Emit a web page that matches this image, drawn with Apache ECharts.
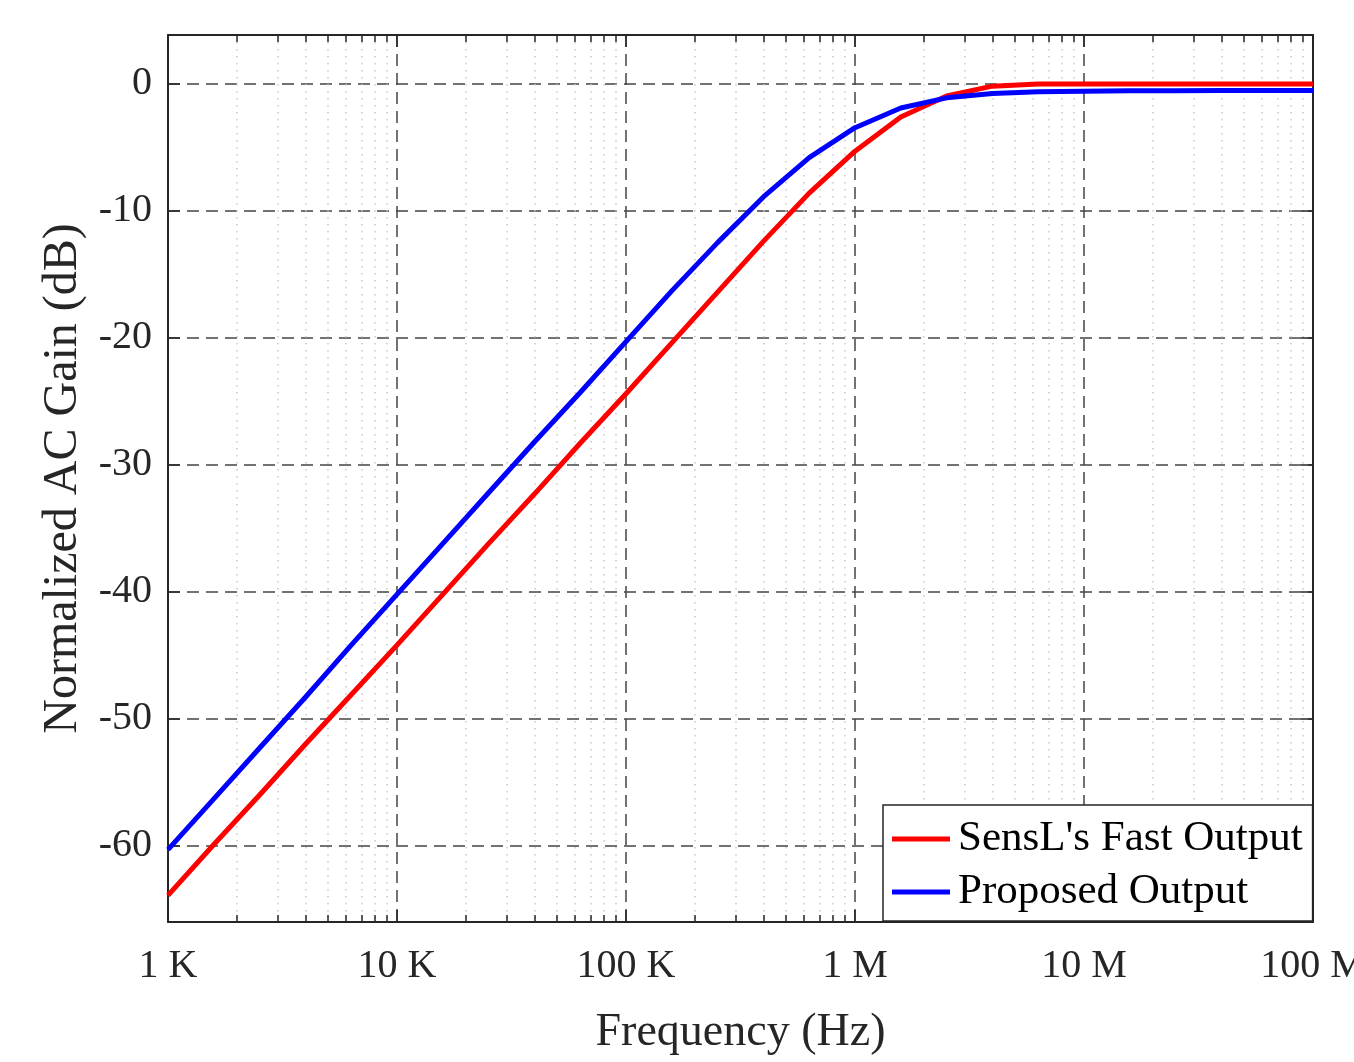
<!DOCTYPE html>
<html>
<head>
<meta charset="utf-8">
<script src="https://cdn.jsdelivr.net/npm/echarts@6/dist/echarts.min.js"></script>
<style>
html,body{margin:0;padding:0;background:#fff;}
#chart{width:1354px;height:1062px;}
</style>
</head>
<body>
<div id="chart"></div>
<script>
// Frequencies (Hz), sampled 5 points per decade
const freqs = [1000, 1585, 2512, 3981, 6310, 10000, 15849, 25119, 39811, 63096,
  100000, 158489, 251189, 398107, 630957, 1000000, 1584893, 2511886, 3981072, 6309573,
  10000000, 15848932, 25118864, 39810717, 63095734, 100000000];
// SensL's Fast Output (dB)
const sensl = [-63.9, -59.9, -56.0, -52.0, -48.1, -44.2, -40.2, -36.2, -32.3, -28.3,
  -24.4, -20.4, -16.4, -12.4, -8.6, -5.3, -2.6, -0.95, -0.18, 0.0,
  0.0, 0.0, 0.0, 0.0, 0.0, 0.0];
// Proposed Output (dB)
const proposed = [-60.3, -56.3, -52.3, -48.3, -44.2, -40.2, -36.2, -32.2, -28.2, -24.3,
  -20.3, -16.3, -12.5, -8.9, -5.8, -3.45, -1.9, -1.1, -0.75, -0.62,
  -0.57, -0.55, -0.54, -0.53, -0.53, -0.53];
const seriesNames = ["SensL's Fast Output", "Proposed Output"];
const xMajor = [1000, 10000, 100000, 1000000, 10000000, 100000000];
const xTickLabels = ['1 K', '10 K', '100 K', '1 M', '10 M', '100 M'];
const xMinor = [2000,3000,4000,5000,6000,7000,8000,9000,
  20000,30000,40000,50000,60000,70000,80000,90000,
  200000,300000,400000,500000,600000,700000,800000,900000,
  2000000,3000000,4000000,5000000,6000000,7000000,8000000,9000000,
  20000000,30000000,40000000,50000000,60000000,70000000,80000000,90000000];
const yTicks = [-60, -50, -40, -30, -20, -10, 0];

const FONT = '"Liberation Serif", "Times New Roman", serif';
const AXC = '#262626';

function xlab(v) {
  for (let i = 0; i < xMajor.length; i++) {
    if (Math.abs(v - xMajor[i]) / xMajor[i] < 1e-6) return xTickLabels[i];
  }
  return '';
}

const baseX = {type: 'log', logBase: 10, min: 1000, max: 100000000, gridIndex: 0};
const chart = echarts.init(document.getElementById('chart'));
chart.setOption({
  animation: false,
  backgroundColor: '#fff',
  grid: {left: 168, top: 35, right: 41, bottom: 140, containLabel: false, outerBoundsMode: 'none'},
  xAxis: [
    Object.assign({}, baseX, {
      position: 'bottom',
      name: 'Frequency (Hz)', nameLocation: 'middle', nameGap: 88,
      nameTextStyle: {fontFamily: FONT, fontSize: 46, color: AXC},
      axisLine: {show: true, onZero: false, lineStyle: {color: AXC, width: 2}},
      axisTick: {show: true, inside: true, length: 12, lineStyle: {color: AXC, width: 1.5}},
      axisLabel: {show: true, margin: 24, fontFamily: FONT, fontSize: 40, color: AXC, formatter: xlab,
        showMinLabel: true, showMaxLabel: true, hideOverlap: false},
      splitLine: {show: true, lineStyle: {color: '#444', width: 1.5, type: [12, 7]}},
      minorTick: {show: false}
    }),
    Object.assign({}, baseX, {
      position: 'bottom',
      axisLine: {show: false, onZero: false},
      axisTick: {show: true, inside: true, length: 7, customValues: xMinor, lineStyle: {color: AXC, width: 1.5}},
      axisLabel: {show: false},
      splitLine: {show: true, lineStyle: {color: '#c8c8c8', width: 1.5, type: [1.5, 5.5]}}
    }),
    Object.assign({}, baseX, {
      position: 'top',
      axisLine: {show: true, onZero: false, lineStyle: {color: AXC, width: 2}},
      axisTick: {show: true, inside: true, length: 12, lineStyle: {color: AXC, width: 1.5}},
      axisLabel: {show: false},
      splitLine: {show: false}
    }),
    Object.assign({}, baseX, {
      position: 'top',
      axisLine: {show: false, onZero: false},
      axisTick: {show: true, inside: true, length: 7, customValues: xMinor, lineStyle: {color: AXC, width: 1.5}},
      axisLabel: {show: false},
      splitLine: {show: false}
    })
  ],
  yAxis: [
    {
      type: 'value', min: -66, max: 3.85, position: 'left',
      name: 'Normalized AC Gain (dB)', nameLocation: 'middle', nameGap: 81,
      nameTextStyle: {fontFamily: FONT, fontSize: 48, color: AXC},
      axisLine: {show: true, onZero: false, lineStyle: {color: AXC, width: 2}},
      axisTick: {show: true, inside: true, length: 12, customValues: yTicks, lineStyle: {color: AXC, width: 1.5}},
      axisLabel: {show: true, margin: 16, customValues: yTicks, fontFamily: FONT, fontSize: 40, color: AXC},
      splitLine: {show: true, lineStyle: {color: '#444', width: 1.5, type: [12, 7]}}
    },
    {
      type: 'value', min: -66, max: 3.85, position: 'right',
      axisLine: {show: true, onZero: false, lineStyle: {color: AXC, width: 2}},
      axisTick: {show: true, inside: true, length: 12, customValues: yTicks, lineStyle: {color: AXC, width: 1.5}},
      axisLabel: {show: false},
      splitLine: {show: false}
    }
  ],
  legend: {
    orient: 'vertical',
    left: 883, top: 805,
    padding: [10, 10, 5, 9],
    itemGap: 5,
    itemWidth: 58, itemHeight: 5,
    icon: 'rect',
    backgroundColor: '#fff',
    borderColor: AXC, borderWidth: 1.5, borderRadius: 0,
    textStyle: {fontFamily: FONT, fontSize: 43, color: '#000', lineHeight: 48, padding: [0, 0, 0, 3]},
    data: seriesNames
  },
  series: [
    {
      name: seriesNames[0], type: 'line', xAxisIndex: 0, yAxisIndex: 0,
      showSymbol: false, symbol: 'none', color: '#ff0000',
      lineStyle: {color: '#ff0000', width: 5},
      data: freqs.map((f, i) => [f, sensl[i]]), z: 5
    },
    {
      name: seriesNames[1], type: 'line', xAxisIndex: 0, yAxisIndex: 0,
      showSymbol: false, symbol: 'none', color: '#0000ff',
      lineStyle: {color: '#0000ff', width: 5},
      data: freqs.map((f, i) => [f, proposed[i]]), z: 5
    }
  ]
});
</script>
</body>
</html>
